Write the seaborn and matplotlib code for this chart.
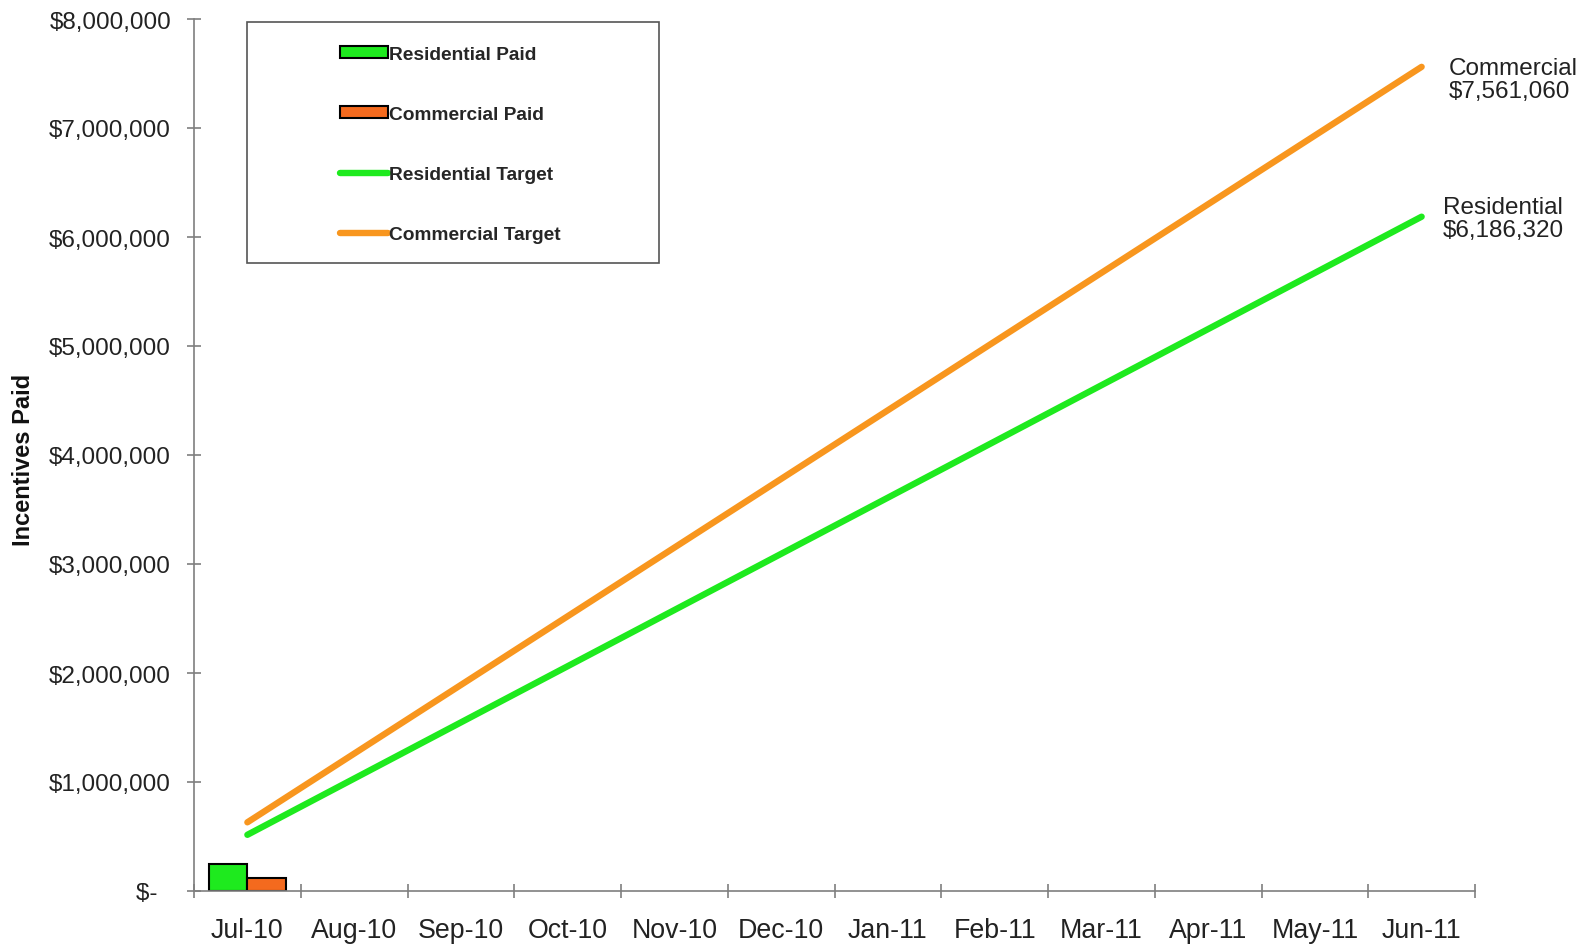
import pandas as pd
import numpy as np
import matplotlib.pyplot as plt
import seaborn as sns
from matplotlib.patches import Patch, Rectangle
from matplotlib.lines import Line2D
from matplotlib.ticker import FuncFormatter, FixedLocator

sns.set_style("white")
plt.rcParams["font.family"] = ["Liberation Sans", "DejaVu Sans"]

months = ["Jul-10", "Aug-10", "Sep-10", "Oct-10", "Nov-10", "Dec-10",
          "Jan-11", "Feb-11", "Mar-11", "Apr-11", "May-11", "Jun-11"]

# incentives paid so far (only July reported)
paid_months = ["Jul-10", "Jul-10"]
paid_types = ["Residential Paid", "Commercial Paid"]
paid_values = [250000, 120000]

# cumulative targets
residential_target = [515527, 1031053, 1546580, 2062107, 2577633, 3093160,
                      3608687, 4124213, 4639740, 5155267, 5670793, 6186320]
commercial_target = [630088, 1260177, 1890265, 2520353, 3150442, 3780530,
                     4410618, 5040707, 5670795, 6300883, 6930972, 7561060]

res_color = "#1EEA1E"
com_bar_color = "#F46A1E"
com_line_color = "#F8961E"
axis_gray = "#7F7F7F"
W, H = 1589, 945

paid = pd.DataFrame({"Month": paid_months, "Type": paid_types, "Value": paid_values})
targets = pd.DataFrame({"pos": np.arange(len(months)),
                        "Residential Target": residential_target,
                        "Commercial Target": commercial_target})

fig = plt.figure(figsize=(W / 100, H / 100), dpi=100)
ax = fig.add_axes([194 / W, 1 - 892 / H, (1475 - 194) / W, (892 - 20) / H])

sns.barplot(data=paid, x="Month", y="Value", hue="Type", order=months,
            palette=[res_color, com_bar_color], saturation=1, width=0.72,
            edgecolor="black", linewidth=1.5, ax=ax, legend=False)

sns.lineplot(data=targets, x="pos", y="Residential Target", color=res_color,
             linewidth=4.6, solid_capstyle="round", ax=ax)
sns.lineplot(data=targets, x="pos", y="Commercial Target", color=com_line_color,
             linewidth=4.6, solid_capstyle="round", ax=ax)

ax.set_xlim(-0.5, len(months) - 0.5)
ax.set_ylim(0, 8000000)
ax.set_yticks(np.arange(0, 8000001, 1000000))
ax.yaxis.set_major_formatter(FuncFormatter(
    lambda v, p: "$-  " if v == 0 else f"${v:,.0f}"))

ax.set_xticks(np.arange(len(months)))
ax.set_xticklabels(months)
ax.xaxis.set_minor_locator(FixedLocator(np.arange(-0.5, len(months), 1.0)))
ax.tick_params(bottom=True, left=True, which="both")
ax.tick_params(axis="x", which="major", length=0, labelsize=19.3, pad=19,
               labelcolor="#222222")
ax.tick_params(axis="x", which="minor", length=10, width=1.2, direction="inout",
               color=axis_gray)
ax.tick_params(axis="y", length=10, width=1.2, direction="inout", color=axis_gray,
               labelsize=17.5, pad=11.5, labelcolor="#222222")

ax.set_xlabel("")
ax.set_ylabel("Incentives Paid", fontsize=17, fontweight="bold", color="#111111")
ax.yaxis.set_label_coords(-0.124, 0.495)

for side in ["top", "right"]:
    ax.spines[side].set_visible(False)
for side in ["left", "bottom"]:
    ax.spines[side].set_color(axis_gray)
    ax.spines[side].set_linewidth(1.2)
ax.grid(False)

# end-of-year labels
ax.annotate(f"Commercial\n${commercial_target[-1]:,}", (len(months) - 1, commercial_target[-1]),
            xytext=(27, -13), textcoords="offset pixels", ha="left", va="center",
            fontsize=17.5, color="#222222", linespacing=1.05, annotation_clip=False)
ax.annotate(f"Residential\n${residential_target[-1]:,}", (len(months) - 1, residential_target[-1]),
            xytext=(21, -2), textcoords="offset pixels", ha="left", va="center",
            fontsize=17.5, color="#222222", linespacing=1.05, annotation_clip=False)

# legend box
fig.patches.append(Rectangle((247 / W, 1 - 263.5 / H), 412 / W, 241 / H,
                             transform=fig.transFigure, facecolor="white",
                             edgecolor="#555555", linewidth=1.2))
handles = [Patch(facecolor=res_color, edgecolor="black", linewidth=1.5),
           Patch(facecolor=com_bar_color, edgecolor="black", linewidth=1.5),
           Line2D([], [], color=res_color, linewidth=4.6),
           Line2D([], [], color=com_line_color, linewidth=4.6)]
labels = ["Residential Paid", "Commercial Paid", "Residential Target", "Commercial Target"]
fig.legend(handles, labels, loc="upper left", bbox_to_anchor=(330 / W, 1 - 37 / H),
           frameon=False, prop={"size": 13.8, "weight": "bold"}, labelspacing=2.25,
           handlelength=2.5, handletextpad=0.1, handleheight=0.55, borderpad=0)

fig.savefig("out.png", dpi=100, facecolor="white")
